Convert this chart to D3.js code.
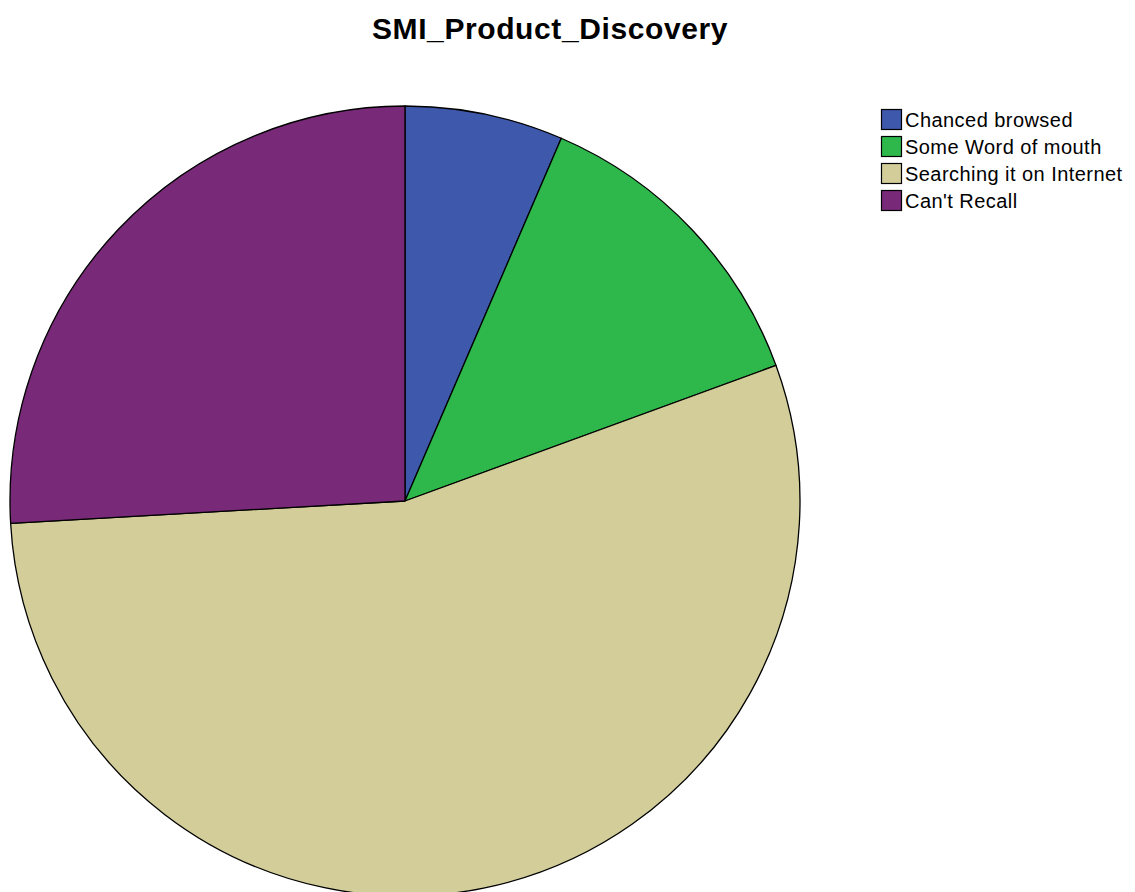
<!DOCTYPE html>
<html>
<head>
<meta charset="utf-8">
<script src="https://cdn.jsdelivr.net/npm/d3@7"></script>
<style>
  body { margin: 0; background: #fff; }
  svg { display: block; }
</style>
</head>
<body>
<svg id="chart" width="1135" height="892"></svg>
<script>
// Response counts for how respondents discovered the product
const categories = ["Chanced browsed", "Some Word of mouth", "Searching it on Internet", "Can't Recall"];
const counts = [9, 18, 76, 36];
const colors = ["#3e58ab", "#2eb84b", "#d3ce99", "#782a78"];

const svg = d3.select("#chart");
const cx = 405, cy = 501, radius = 395;

svg.append("text")
  .attr("x", 550).attr("y", 39)
  .attr("text-anchor", "middle")
  .attr("font-family", "Arial, 'Liberation Sans', sans-serif")
  .attr("font-weight", "bold")
  .attr("font-size", 30)
  .attr("letter-spacing", 0.6)
  .attr("fill", "#000")
  .text("SMI_Product_Discovery");

const data = categories.map((c, i) => ({ cat: c, value: counts[i], color: colors[i] }));

const pie = d3.pie().value(d => d.value).sort(null);
const arc = d3.arc().innerRadius(0).outerRadius(radius);

svg.append("g")
  .attr("transform", `translate(${cx},${cy})`)
  .selectAll("path")
  .data(pie(data))
  .join("path")
  .attr("d", arc)
  .attr("fill", d => d.data.color)
  .attr("stroke", "#000")
  .attr("stroke-width", 1.3)
  .attr("stroke-linejoin", "round");

// Legend
const legend = svg.append("g").attr("transform", "translate(881,109)");
const rowH = 27;
const rows = legend.selectAll("g")
  .data(data)
  .join("g")
  .attr("transform", (d, i) => `translate(0,${i * rowH})`);

rows.append("rect")
  .attr("x", 0.5).attr("y", 0.5)
  .attr("width", 20).attr("height", 20)
  .attr("fill", d => d.color)
  .attr("stroke", "#000")
  .attr("stroke-width", 1.2);

rows.append("text")
  .attr("x", 24).attr("y", 18)
  .attr("font-family", "Arial, 'Liberation Sans', sans-serif")
  .attr("font-size", 20)
  .attr("letter-spacing", 0.45)
  .attr("fill", "#000")
  .text(d => d.cat);
</script>
</body>
</html>
